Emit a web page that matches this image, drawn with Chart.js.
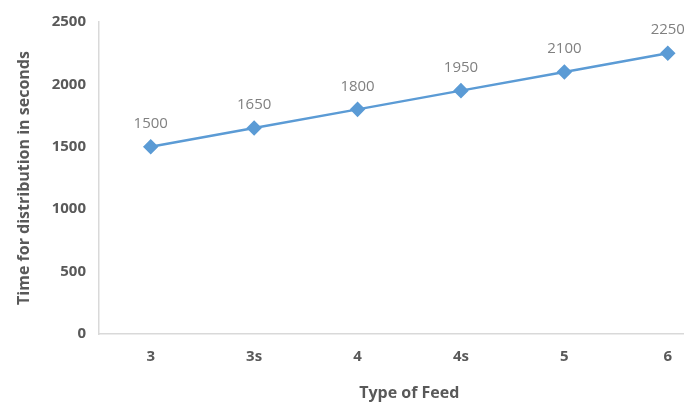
<!DOCTYPE html>
<html><head><meta charset="utf-8">
<script src="https://cdn.jsdelivr.net/npm/chart.js@4.4.1/dist/chart.umd.min.js"></script>
<style>
html,body{margin:0;padding:0;background:#fff;overflow:hidden;}
#wrap{width:684px;height:403px;overflow:hidden;position:relative;}
#box{width:728px;height:403px;position:absolute;left:0;top:0;}
</style></head>
<body><div id="wrap"><div id="box"><canvas id="c"></canvas></div></div>
<script>
const categories = ['3','3s','4','4s','5','6'];
const timeValues = [1500,1650,1800,1950,2100,2250];
const yTicks = [0,500,1000,1500,2000,2500];
const xTitle = 'Type of Feed';
const yTitle = 'Time for distribution in seconds';

const FONT = "'Open Sans', 'Liberation Sans', sans-serif";
const labelPlugin = {
  id:'pointLabels',
  afterDatasetsDraw(chart){
    const ctx = chart.ctx;
    const meta = chart.getDatasetMeta(0);
    ctx.save();
    ctx.fillStyle = '#808080';
    ctx.font = "15px " + FONT;
    ctx.textAlign = 'center';
    ctx.textBaseline = 'middle';
    meta.data.forEach((pt,i)=>{
      ctx.fillText(String(chart.data.datasets[0].data[i]), pt.x, pt.y - 23);
    });
    ctx.restore();
  }
};

new Chart(document.getElementById('c'), {
  type:'line',
  data:{labels:categories, datasets:[{
    data:timeValues,
    borderColor:'#5B9BD5', backgroundColor:'#5B9BD5',
    borderWidth:2.5, pointStyle:'rectRot', pointRadius:6, pointHoverRadius:6,
    tension:0
  }]},
  options:{
    responsive:true, maintainAspectRatio:false, animation:false,
    layout:{padding:{left:15,right:1,top:10,bottom:0}},
    plugins:{legend:{display:false}, tooltip:{enabled:false}},
    scales:{
      x:{
        offset:true,
        grid:{display:false, drawTicks:false},
        border:{display:true,color:'#d9d9d9',width:1.5},
        ticks:{color:'#595959',font:{family:FONT,size:15,weight:'bold'},padding:14},
        title:{display:true,text:xTitle,color:'#595959',font:{family:FONT,size:16,weight:'bold'},padding:{top:11,bottom:0}},
        afterFit(s){ s.height = 69; }
      },
      y:{
        min:0,max:2500,
        afterBuildTicks(s){ s.ticks = yTicks.map(v=>({value:v})); },
        grid:{display:false, drawTicks:false},
        border:{display:true,color:'#d9d9d9',width:1.5},
        ticks:{color:'#595959',font:{family:FONT,size:15,weight:'bold'},padding:13,callback:v=>String(v)},
        title:{display:true,text:yTitle,color:'#595959',font:{family:FONT,size:16,weight:'bold'},padding:{top:0,bottom:8}},
        afterFit(s){ s.width = 84; }
      }
    }
  },
  plugins:[labelPlugin]
});
</script></body></html>
